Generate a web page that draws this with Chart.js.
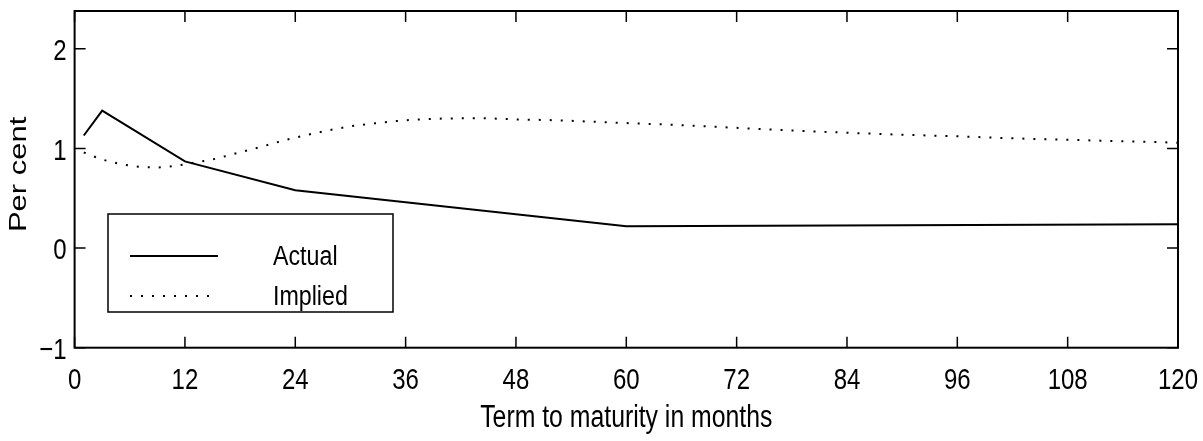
<!DOCTYPE html>
<html lang="en">
<head>
<meta charset="UTF-8">
<title>Actual and implied</title>
<script src="https://cdn.jsdelivr.net/npm/chart.js@4.4.0/dist/chart.umd.min.js"></script>
<style>body{margin:0;background:#fff}</style>
</head>
<body>
<canvas id="chart" width="1203" height="441"></canvas>
<script>
// values
const actualMonths = [1, 3, 12, 24, 60, 120];
const actualValues = [1.13, 1.38, 0.87, 0.58, 0.22, 0.24];

const impliedMonths = [1, 3, 5, 7, 9, 11, 13, 15, 17, 19, 21, 23, 25, 27, 30, 33, 36, 40, 44, 48,
                       52, 56, 60, 66, 72, 78, 84, 90, 96, 102, 108, 114, 120];
const impliedValues = [0.96, 0.89, 0.845, 0.817, 0.81, 0.826, 0.857, 0.89, 0.937, 0.985, 1.035, 1.087,
                       1.13, 1.17, 1.222, 1.256, 1.283, 1.30, 1.303, 1.292, 1.284, 1.27, 1.255, 1.234,
                       1.207, 1.18, 1.158, 1.138, 1.122, 1.102, 1.087, 1.073, 1.058];

const xTicks = [0, 12, 24, 36, 48, 60, 72, 84, 96, 108, 120];
const yTicks = [-1, 0, 1, 2];
const xTitle = 'Term to maturity in months';
const yTitle = 'Per cent';

const fam = "'Liberation Sans', Arial, sans-serif";
const squeeze = 0.8;   // the original lettering is narrow

function pts(xs, ys) {
    return xs.map((m, i) => ({x: m, y: ys[i]}));
}

function fmt(v) {
    return v < 0 ? '\u2212' + Math.abs(v) : String(v);
}

function narrowText(ctx, text, x, y, align, sx) {
    ctx.save();
    ctx.translate(x, y);
    ctx.scale(sx, 1);
    ctx.textAlign = align;
    ctx.fillText(text, 0, 0);
    ctx.restore();
}

// box round the plot, inward ticks, tick labels, titles and the legend
const frame = {
    id: 'frame',
    afterDatasetsDraw(chart) {
        const {ctx, chartArea: a, scales: {x, y}} = chart;
        ctx.save();
        ctx.strokeStyle = '#000';
        ctx.fillStyle = '#000';
        ctx.lineWidth = 1.5;
        ctx.beginPath();
        x.ticks.forEach(t => {
            const px = x.getPixelForValue(t.value);
            ctx.moveTo(px, a.bottom); ctx.lineTo(px, a.bottom - 11);
            ctx.moveTo(px, a.top); ctx.lineTo(px, a.top + 11);
        });
        y.ticks.forEach(t => {
            const py = y.getPixelForValue(t.value);
            ctx.moveTo(a.left, py); ctx.lineTo(a.left + 11, py);
            ctx.moveTo(a.right, py); ctx.lineTo(a.right - 11, py);
        });
        ctx.stroke();
        ctx.lineWidth = 2;
        ctx.strokeRect(a.left, a.top, a.right - a.left, a.bottom - a.top);

        // tick labels
        ctx.font = '30px ' + fam;
        ctx.textBaseline = 'middle';
        x.ticks.forEach(t => {
            narrowText(ctx, fmt(t.value), x.getPixelForValue(t.value), a.bottom + 33, 'center', squeeze);
        });
        y.ticks.forEach(t => {
            narrowText(ctx, fmt(t.value), a.left - 8, y.getPixelForValue(t.value) + 3, 'right', squeeze);
        });

        // axis titles
        ctx.font = '31px ' + fam;
        narrowText(ctx, xTitle, (a.left + a.right) / 2, 418, 'center', squeeze);
        ctx.save();
        ctx.translate(19.5, (a.top + a.bottom) / 2 - 5);
        ctx.scale(squeeze, 1);
        ctx.rotate(-Math.PI / 2);
        ctx.textAlign = 'center';
        ctx.fillText(yTitle, 0, 0);
        ctx.restore();

        // legend
        const lx = 108, ly = 214, lw = 285, lh = 98;
        ctx.fillStyle = '#fff';
        ctx.fillRect(lx, ly, lw, lh);
        ctx.lineWidth = 1.5;
        ctx.strokeRect(lx, ly, lw, lh);
        ctx.fillStyle = '#000';
        ctx.font = '27px ' + fam;
        chart.data.datasets.forEach((ds, i) => {
            const yy = 256 + i * 40;
            ctx.save();
            ctx.lineWidth = ds.borderWidth;
            ctx.setLineDash(ds.borderDash || []);
            ctx.beginPath();
            ctx.moveTo(130, yy);
            ctx.lineTo(218, yy);
            ctx.stroke();
            ctx.restore();
            narrowText(ctx, ds.label, 273, yy + 2, 'left', 0.86);
        });
        ctx.restore();
    }
};

new Chart(document.getElementById('chart'), {
    type: 'line',
    data: {
        datasets: [{
            label: 'Actual',
            data: pts(actualMonths, actualValues),
            borderColor: '#000',
            borderWidth: 2,
            pointRadius: 0,
            tension: 0
        }, {
            label: 'Implied',
            data: pts(impliedMonths, impliedValues),
            borderColor: '#000',
            borderWidth: 2,
            borderDash: [2, 9],
            pointRadius: 0,
            cubicInterpolationMode: 'monotone'
        }]
    },
    options: {
        responsive: false,
        animation: false,
        devicePixelRatio: 1,
        layout: {padding: {top: 11, right: 25, left: 0, bottom: 0}},
        plugins: {legend: {display: false}, tooltip: {enabled: false}},
        scales: {
            x: {
                type: 'linear',
                min: 0,
                max: 120,
                afterBuildTicks: s => { s.ticks = xTicks.map(v => ({value: v})); },
                afterFit: s => { s.height = 93.3; s.paddingLeft = 0; s.paddingRight = 0; },
                grid: {display: false, drawTicks: false},
                border: {display: false},
                ticks: {display: false}
            },
            y: {
                min: -1,
                max: 2.38,
                afterBuildTicks: s => { s.ticks = yTicks.map(v => ({value: v})); },
                afterFit: s => { s.width = 74.6; s.paddingTop = 0; s.paddingBottom = 0; },
                grid: {display: false, drawTicks: false},
                border: {display: false},
                ticks: {display: false}
            }
        }
    },
    plugins: [frame]
});
</script>
</body>
</html>
